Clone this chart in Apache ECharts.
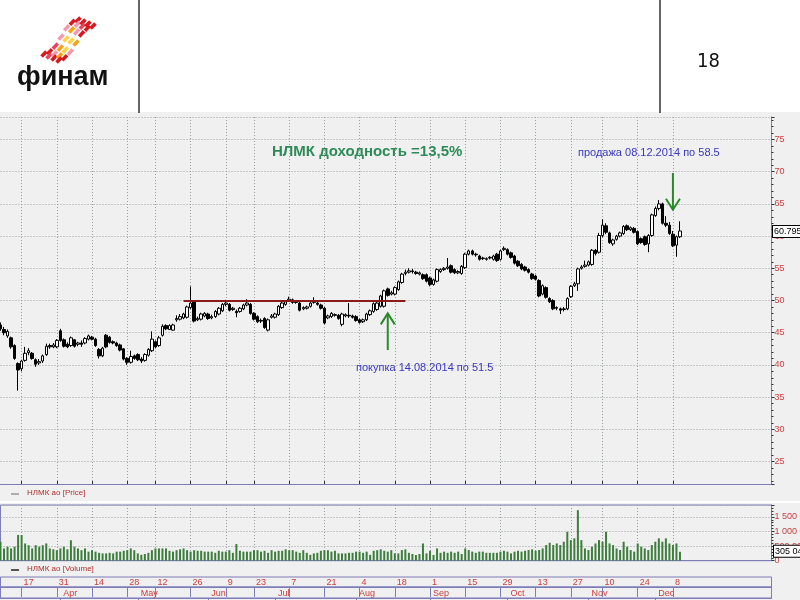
<!DOCTYPE html>
<html><head><meta charset="utf-8">
<script src="https://cdn.jsdelivr.net/npm/echarts@6/dist/echarts.min.js"></script>
<style>html,body{margin:0;padding:0;background:#fff}#c{width:800px;height:600px}</style>
</head><body><div id="c"></div>
<script>
const dates = ['03-06','03-07','03-11','03-12','03-13','03-14','03-17','03-18','03-19','03-20','03-21','03-24','03-25','03-26','03-27','03-28','03-31',
'04-01','04-02','04-03','04-04','04-07','04-08','04-09','04-10','04-11','04-14','04-15','04-16','04-17','04-18','04-21','04-22','04-23','04-24','04-25','04-28','04-29','04-30',
'05-02','05-05','05-06','05-07','05-08','05-12','05-13','05-14','05-15','05-16','05-19','05-20','05-21','05-22','05-23','05-26','05-27','05-28','05-29','05-30',
'06-02','06-03','06-04','06-05','06-06','06-09','06-10','06-11','06-16','06-17','06-18','06-19','06-20','06-23','06-24','06-25','06-26','06-27','06-30',
'07-01','07-02','07-03','07-04','07-07','07-08','07-09','07-10','07-11','07-14','07-15','07-16','07-17','07-18','07-21','07-22','07-23','07-24','07-25','07-28','07-29','07-30','07-31',
'08-01','08-04','08-05','08-06','08-07','08-08','08-11','08-12','08-13','08-14','08-15','08-18','08-19','08-20','08-21','08-22','08-25','08-26','08-27','08-28','08-29',
'09-01','09-02','09-03','09-04','09-05','09-08','09-09','09-10','09-11','09-12','09-15','09-16','09-17','09-18','09-19','09-22','09-23','09-24','09-25','09-26','09-29','09-30',
'10-01','10-02','10-03','10-06','10-07','10-08','10-09','10-10','10-13','10-14','10-15','10-16','10-17','10-20','10-21','10-22','10-23','10-24','10-27','10-28','10-29','10-30','10-31',
'11-03','11-05','11-06','11-07','11-10','11-11','11-12','11-13','11-14','11-17','11-18','11-19','11-20','11-21','11-24','11-25','11-26','11-27','11-28',
'12-01','12-02','12-03','12-04','12-05','12-08','12-09','12-10'];

const open = [46.2,45.5,44.5,44.2,43.0,40.2,39.4,40.7,41.9,41.8,
40.8,40.3,40.6,41.6,43.0,42.8,42.8,45.3,43.9,43.2,
43.0,43.9,43.2,43.4,43.4,44.0,44.3,44.0,42.4,41.4,
44.6,44.3,43.6,43.4,43.1,42.5,41.0,40.4,41.4,41.6,
40.9,40.7,41.5,42.2,43.6,43.0,44.6,46.1,45.5,45.4,
47.0,47.1,47.3,47.4,48.9,49.8,47.0,47.1,47.6,47.9,
47.3,47.5,47.9,48.4,49.4,49.4,48.6,48.3,48.3,48.7,
49.3,49.4,48.0,47.5,46.9,47.2,45.4,47.4,47.4,47.8,
48.9,49.4,50.0,50.1,49.7,49.6,48.7,48.8,49.1,49.7,
49.6,49.3,48.8,47.3,47.5,47.8,47.7,46.3,47.6,47.7,
47.6,47.5,47.0,46.7,47.0,47.8,48.3,48.6,49.1,49.1,
51.8,51.0,51.0,51.7,52.8,54.2,54.4,54.6,54.4,54.1,
54.0,54.0,53.5,52.5,53.0,54.5,54.8,55.0,55.4,54.8,
54.3,54.2,55.1,57.2,57.7,57.2,56.9,56.5,56.4,56.6,
56.4,57.2,56.4,57.9,57.9,57.4,56.9,56.1,55.6,55.2,
54.8,54.1,53.8,53.1,51.0,52.0,50.3,50.0,48.9,48.7,
48.6,48.7,50.6,52.3,52.6,55.0,55.3,55.5,55.6,57.8,
57.5,60.1,61.6,60.5,58.8,59.5,60.0,60.4,61.6,61.0,
61.2,60.7,59.6,59.9,58.8,60.1,63.2,64.3,65.0,62.0,
61.7,60.3,58.6,59.9];

const close = [45.6,45.0,45.2,42.8,41.0,39.2,40.6,41.8,42.2,41.0,
40.1,40.5,41.4,42.9,42.8,43.1,43.8,43.8,42.9,42.8,
44.2,42.9,43.4,43.2,44.1,44.5,44.0,43.0,41.4,42.6,
42.8,43.5,43.4,43.0,42.3,40.9,40.4,41.3,41.0,40.8,
40.6,41.6,42.4,44.0,42.8,44.2,46.0,45.6,46.1,46.2,
47.2,47.5,47.9,49.0,49.6,46.8,47.2,47.9,48.0,47.2,
47.5,48.3,48.8,49.4,49.6,48.5,48.8,48.1,48.8,49.3,
49.6,48.0,47.1,46.7,46.8,45.8,47.0,47.6,47.9,49.1,
49.6,49.8,50.2,49.7,49.8,48.5,48.9,49.0,49.6,49.9,
49.4,48.8,46.5,47.6,48.0,47.7,47.2,47.9,47.8,47.6,
47.4,46.9,46.6,47.0,47.9,48.4,49.5,49.6,50.7,51.5,
50.8,51.2,52.0,52.9,54.1,54.4,54.6,54.5,54.2,54.3,
53.4,53.0,52.5,53.2,54.8,54.8,55.0,55.2,54.4,54.3,
54.5,55.3,57.2,57.7,57.2,57.1,56.4,56.6,56.5,56.7,
56.9,56.2,57.7,58.1,57.2,56.7,55.8,55.4,54.9,54.7,
54.4,53.4,53.3,50.7,52.3,50.5,49.8,48.7,48.8,48.5,
48.7,50.3,52.2,52.6,54.9,55.2,55.5,56.0,57.8,57.3,
60.1,61.7,60.6,59.0,59.4,60.0,60.5,61.5,61.0,61.3,
60.6,58.8,59.0,58.7,60.1,63.3,64.3,65.0,62.0,61.7,
60.4,58.5,59.9,60.795];

const low = [45.3,44.6,44.2,42.5,40.8,36.0,39.0,40.5,41.5,40.8,
39.7,40.0,40.3,41.4,42.5,42.6,42.6,43.6,42.7,42.6,
42.8,42.7,42.9,42.8,43.2,43.8,43.8,42.8,41.0,41.2,
42.6,43.3,43.2,42.8,42.1,40.7,40.0,40.2,40.8,40.6,
40.3,40.5,41.3,42.0,42.6,42.8,44.4,45.4,45.4,45.3,
46.7,46.9,47.1,47.2,48.7,46.6,46.8,46.9,47.4,47.0,
47.1,47.3,47.7,48.2,49.1,48.3,48.4,47.4,48.1,48.5,
49.1,47.8,46.9,46.5,46.5,45.6,45.2,47.2,47.2,47.6,
48.7,49.2,49.8,49.5,49.5,48.3,48.5,48.6,48.9,49.5,
49.2,48.6,46.3,47.1,47.3,47.5,47.0,46.0,47.4,47.3,
47.2,46.7,46.4,46.5,46.8,47.6,48.1,48.4,48.9,48.9,
50.6,50.8,50.8,51.5,52.6,53.9,54.2,54.2,54.0,53.9,
53.2,52.8,52.2,52.3,52.8,54.3,54.6,54.8,54.2,54.1,
54.1,54.0,54.9,57.0,57.0,56.8,56.2,56.3,56.2,56.4,
56.2,56.0,56.2,57.7,57.0,56.5,55.6,55.2,54.7,54.5,
54.2,53.2,53.1,50.5,50.8,50.3,49.6,48.5,48.5,47.9,
48.3,48.5,50.4,52.1,51.5,54.8,55.1,55.3,55.4,57.0,
57.3,59.8,60.3,58.8,58.5,59.3,59.8,60.2,60.8,60.8,
60.4,58.6,58.8,58.5,57.5,59.9,63.0,64.0,61.8,61.4,
60.2,58.3,56.8,59.7];

const high = [46.6,45.9,45.5,44.4,43.2,40.4,40.8,42.8,42.6,42.0,
41.0,40.9,41.6,43.3,43.3,43.4,44.0,45.6,44.1,43.5,
44.4,44.0,43.6,43.8,44.3,44.7,44.5,44.2,42.6,42.8,
44.8,44.5,43.8,43.6,43.3,42.6,41.2,42.2,41.6,41.8,
41.2,41.8,42.6,45.2,43.8,44.5,46.3,46.3,46.3,46.4,
47.7,47.9,48.1,49.2,52.2,50.0,47.5,48.1,48.2,48.1,
47.8,48.5,49.0,49.6,50.1,49.6,49.0,48.6,49.0,49.5,
50.2,49.6,48.2,47.7,47.2,47.4,47.2,47.9,48.1,49.3,
49.8,50.0,50.6,50.3,50.0,49.8,49.1,49.2,49.8,50.5,
49.8,49.5,49.0,47.8,48.2,48.0,47.9,48.1,48.0,49.6,
47.8,47.7,47.2,47.2,48.1,48.6,49.7,49.8,50.9,51.7,
52.0,51.5,52.2,53.1,54.3,54.8,55.0,54.9,54.6,54.5,
54.2,54.2,53.7,53.4,55.0,55.0,55.2,56.6,55.6,55.0,
54.7,55.5,57.4,57.9,57.9,57.4,57.1,56.8,56.7,56.9,
57.1,57.4,57.9,58.4,58.1,57.6,57.1,56.3,55.8,55.4,
55.0,54.3,54.0,53.3,52.5,52.2,50.5,50.2,49.1,48.9,
49.0,50.5,52.4,52.9,55.1,55.5,56.2,56.2,58.0,58.0,
60.5,62.6,62.0,60.7,59.6,60.2,60.7,61.7,61.8,61.5,
61.4,60.9,59.8,60.1,60.3,63.5,64.6,65.6,65.2,63.1,
62.2,60.8,60.1,62.3];

// volume in thousands of shares
const volume = [650,420,480,420,480,880,880,590,530,420,
530,480,530,590,420,390,360,420,480,390,
700,480,420,360,420,310,360,310,270,250,
250,270,250,310,310,340,360,420,360,250,
200,230,270,360,420,420,420,420,340,310,
360,390,420,360,310,360,340,340,310,310,
310,270,340,310,310,360,270,570,340,310,
310,310,360,360,310,340,270,360,310,340,
340,390,360,360,310,270,360,270,200,250,
270,340,360,360,310,340,250,250,250,270,
270,310,310,270,310,200,340,360,390,340,
310,360,250,250,365,390,270,230,195,230,
590,250,340,195,420,270,310,270,310,270,
310,230,420,365,310,270,310,310,270,270,
270,270,310,340,310,250,310,340,310,340,
365,390,340,365,420,535,615,535,590,535,
650,990,705,765,1730,705,420,365,480,590,
705,650,990,590,535,420,365,650,480,365,
310,590,480,420,365,535,650,765,650,765,
590,535,590,305.049];

const tickDates = ['03-17','03-31','04-14','04-28','05-12','05-26','06-09','06-23','07-07','07-21','08-04','08-18','09-01','09-15','09-29','10-13','10-27','11-10','11-24','12-08'];
const monthStarts = ['04-01','05-02','06-02','07-01','08-01','09-01','10-01','11-03','12-01'];
const monthNames = ['Apr','May','Jun','Jul','Aug','Sep','Oct','Nov','Dec'];
const volTickLabels = {0:'0',500:'500 000',1000:'1 000 000',1500:'1 500 000'};

const PAD = 26;
const cats = dates.concat(Array.from({length: PAD}, (_, k) => '~' + k));
const tickSet = new Set(tickDates);
const monthMap = {}; monthStarts.forEach((d, k) => monthMap[d] = monthNames[k]);
const isTick = (i, v) => tickSet.has(v);
const isMonth = (i, v) => v in monthMap;

const BLUE = '#7d7db8', RED = '#c84040', GRID = '#9aa0a0', BG = '#f0f0f0';
const GL = 0.5, GR = 28.5;

const chart = echarts.init(document.getElementById('c'), null, {renderer: 'canvas'});
const dotted = {color: GRID, type: [1, 2], width: 1};

const option = {
  animation: false,
  backgroundColor: '#ffffff',
  grid: [
    {left: GL, right: GR, top: 117, height: 367, outerBoundsMode: 'none', containLabel: false},
    {left: GL, right: GR, top: 505, height: 55.7, show: true, borderColor: BLUE, borderWidth: 1, outerBoundsMode: 'none', containLabel: false},
    {left: GL, right: GR, top: 577, height: 10, show: true, borderColor: BLUE, borderWidth: 1, outerBoundsMode: 'none', containLabel: false},
    {left: GL, right: GR, top: 587, height: 11, show: true, borderColor: BLUE, borderWidth: 1, outerBoundsMode: 'none', containLabel: false}
  ],
  xAxis: [
    {gridIndex: 0, type: 'category', data: cats, boundaryGap: false,
      axisLine: {show: true, lineStyle: {color: BLUE}},
      axisTick: {show: true, inside: true, length: 3, interval: isTick, lineStyle: {color: '#333'}},
      axisLabel: {show: false},
      splitLine: {show: true, interval: isTick, lineStyle: dotted}},
    {gridIndex: 1, type: 'category', data: cats, boundaryGap: false,
      axisLine: {show: true, lineStyle: {color: BLUE}},
      axisTick: {show: false}, axisLabel: {show: false},
      splitLine: {show: true, interval: isTick, lineStyle: dotted}},
    {gridIndex: 2, type: 'category', data: cats, boundaryGap: false, position: 'top',
      axisLine: {show: true, lineStyle: {color: BLUE}},
      axisTick: {show: true, inside: true, length: 10, interval: isTick, lineStyle: {color: BLUE}},
      axisLabel: {show: true, inside: true, interval: isTick, align: 'left', verticalAlign: 'top',
        margin: 1, padding: [0, 0, 0, 2], fontSize: 9, color: RED, fontFamily: 'Arial',
        formatter: v => String(parseInt(v.slice(3), 10))},
      splitLine: {show: false}},
    {gridIndex: 3, type: 'category', data: cats, boundaryGap: false, position: 'top',
      axisLine: {show: true, lineStyle: {color: BLUE}},
      axisTick: {show: true, inside: true, length: 11, interval: isMonth, lineStyle: {color: BLUE}},
      axisLabel: {show: true, inside: true, interval: isMonth, align: 'left', verticalAlign: 'top',
        margin: 2, padding: [0, 0, 0, 3], fontSize: 9, color: RED, fontFamily: 'Arial',
        formatter: v => monthMap[v] || ''},
      splitLine: {show: false}}
  ],
  yAxis: [
    {gridIndex: 0, type: 'value', position: 'right', min: 21.5, max: 78.5, splitNumber: 10,
      axisLine: {show: true, lineStyle: {color: BLUE}},
      axisTick: {show: true, length: 3, lineStyle: {color: '#333'}},
      minorTick: {show: true, splitNumber: 5, length: 2, lineStyle: {color: '#333'}},
      axisLabel: {color: RED, fontSize: 9, margin: 3, fontFamily: 'Arial', showMinLabel: false, showMaxLabel: false},
      splitLine: {show: true, lineStyle: dotted}},
    {gridIndex: 1, type: 'value', position: 'right', min: 0, max: 1907, interval: 500,
      axisLine: {show: true, lineStyle: {color: BLUE}},
      axisTick: {show: true, length: 3, lineStyle: {color: '#333'}},
      minorTick: {show: true, splitNumber: 5, length: 2, lineStyle: {color: '#333'}},
      axisLabel: {color: RED, fontSize: 9, margin: 3, fontFamily: 'Arial', showMaxLabel: false,
        formatter: v => volTickLabels[v] !== undefined ? volTickLabels[v] : ''},
      splitLine: {show: true, lineStyle: dotted}},
    {gridIndex: 2, type: 'value', show: false},
    {gridIndex: 3, type: 'value', show: false}
  ],
  series: [
    {type: 'candlestick', xAxisIndex: 0, yAxisIndex: 0, barWidth: 3,
      data: dates.map((d, i) => [open[i], close[i], low[i], high[i]]),
      itemStyle: {color: '#ffffff', color0: '#000000', borderColor: '#000000', borderColor0: '#000000', borderWidth: 1},
      markLine: {silent: true, symbol: 'none', animation: false, label: {show: false},
        lineStyle: {color: '#8b1a1a', width: 2.2, type: 'solid'},
        data: [[{coord: ['05-22', 49.9]}, {coord: ['08-21', 49.9]}]]}},
    {type: 'bar', xAxisIndex: 1, yAxisIndex: 1, barWidth: 2, data: volume,
      itemStyle: {color: '#3d7d3d'}}
  ]
};
chart.setOption(option);

// ---------- annotations ----------
const g = [];
g.push({type: 'rect', z: -100, shape: {x: 0, y: 112, width: 800, height: 488}, style: {fill: BG}});
g.push({type: 'line', shape: {x1: 139, y1: 0, x2: 139, y2: 113}, style: {stroke: '#333', lineWidth: 1.5}});
g.push({type: 'line', shape: {x1: 660, y1: 0, x2: 660, y2: 113}, style: {stroke: '#333', lineWidth: 1.5}});
g.push({type: 'text', left: 697, top: 52, style: {text: '18', font: '20px "DejaVu Sans Condensed", sans-serif', fill: '#111'}});
// logo: wavy bands of small tiles
const bandCols = [
  ['#d71920','#d71920','#e8455a','#f29bb0','#f29bb0','#d71920','#d71920'],
  ['#e8455a','#f29bb0','#f7a21b','#ffd24a','#f7a21b','#f29bb0','#d71920'],
  ['#d71920','#f7a21b','#ffd24a','#ffd24a','#f29bb0','#e8455a','#d71920'],
  ['#d71920','#d71920','#f29bb0','#f7a21b','#d71920','#d71920','#d71920']
];
for (let s = 0; s < 4; s++) {
  for (let j = 0; j < 7; j++) {
    const t = j / 6;
    const cx = 44 + t * 34 + s * 5;
    const cy = 54 - t * 34 + s * 2 + Math.sin(t * Math.PI * 2) * 4;
    g.push({type: 'rect', x: cx, y: cy, rotation: 0.8, shape: {x: -3.5, y: -1.8, width: 7, height: 3.6},
      style: {fill: bandCols[s][j]}});
  }
}
g.push({type: 'text', left: 17, top: 64, style: {text: 'финам', font: 'bold 27px Arial, sans-serif', fill: '#111'}});
// title & annotations
g.push({type: 'text', left: 272, top: 144, style: {text: 'НЛМК доходность =13,5%', font: 'bold 15px Arial, sans-serif', fill: '#2e8b57'}});
g.push({type: 'text', left: 578, top: 147, style: {text: 'продажа 08.12.2014 по 58.5', font: '11px Arial, sans-serif', fill: '#3838c0'}});
g.push({type: 'text', left: 356, top: 362, style: {text: 'покупка 14.08.2014 по 51.5', font: '11px Arial, sans-serif', fill: '#3838c0'}});
// legends
g.push({type: 'line', shape: {x1: 11, y1: 494, x2: 19, y2: 494}, style: {stroke: '#999', lineWidth: 1.5}});
g.push({type: 'text', left: 27, top: 489, style: {text: 'НЛМК ао [Price]', font: '8px Arial, sans-serif', fill: '#b03030'}});
g.push({type: 'line', shape: {x1: 0, y1: 502, x2: 800, y2: 502}, style: {stroke: '#ffffff', lineWidth: 2}});
g.push({type: 'line', shape: {x1: 11, y1: 570, x2: 19, y2: 570}, style: {stroke: '#222', lineWidth: 1.5}});
g.push({type: 'text', left: 27, top: 565, style: {text: 'НЛМК ао [Volume]', font: '8px Arial, sans-serif', fill: '#b03030'}});

// arrows placed through the chart's own scales
function arrow(cat, v0, v1) {
  const p0 = chart.convertToPixel({xAxisIndex: 0, yAxisIndex: 0}, [cat, v0]);
  const p1 = chart.convertToPixel({xAxisIndex: 0, yAxisIndex: 0}, [cat, v1]);
  const dir = p1[1] < p0[1] ? 1 : -1;
  const st = {stroke: '#2a8a2a', lineWidth: 2, fill: null};
  g.push({type: 'line', shape: {x1: p0[0], y1: p0[1], x2: p1[0], y2: p1[1]}, style: st});
  g.push({type: 'polyline', shape: {points: [[p1[0] - 7, p1[1] + dir * 11], [p1[0], p1[1]], [p1[0] + 7, p1[1] + dir * 11]]}, style: st});
}
arrow('08-14', 42.3, 48.0);
arrow('12-08', 69.8, 64.1);

// last price / last volume boxes
const lastIdx = dates.length - 1;
const py = chart.convertToPixel({yAxisIndex: 0}, close[lastIdx]);
g.push({type: 'text', left: 772, top: py - 6, z: 50, style: {text: close[lastIdx].toFixed(3), font: '9px Arial, sans-serif', fill: '#000',
  backgroundColor: '#ffffff', borderColor: '#000', borderWidth: 1, padding: [1, 1]}});
const vy = chart.convertToPixel({yAxisIndex: 1}, volume[lastIdx]);
g.push({type: 'text', left: 773, top: vy - 7, z: 50, style: {text: '305 049', font: '9px Arial, sans-serif', fill: '#000',
  backgroundColor: '#ffffff', borderColor: '#000', borderWidth: 1, padding: [1, 1]}});

chart.setOption({graphic: g});
</script></body></html>
